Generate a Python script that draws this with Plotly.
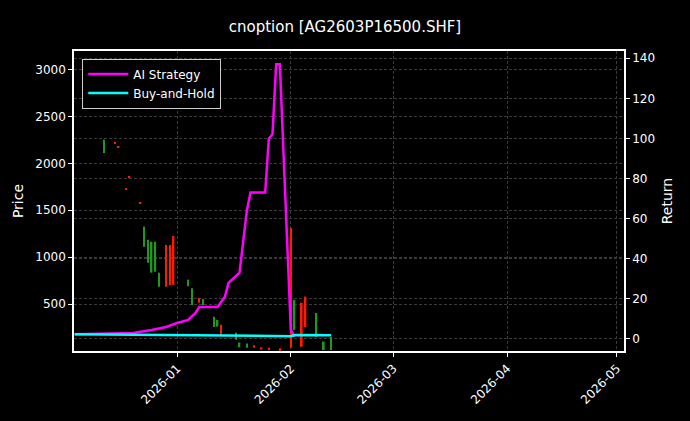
import plotly.graph_objects as go

# candlesticks (red = up, green = down)
c_dates = ['2025-12-12', '2025-12-15', '2025-12-16', '2025-12-18', '2025-12-19', '2025-12-22',
           '2025-12-23', '2025-12-24', '2025-12-25', '2025-12-26', '2025-12-27', '2025-12-29',
           '2025-12-30', '2025-12-31', '2026-01-04', '2026-01-05', '2026-01-07', '2026-01-08',
           '2026-01-11', '2026-01-12', '2026-01-13', '2026-01-17', '2026-01-18', '2026-01-20',
           '2026-01-22', '2026-01-24', '2026-01-26', '2026-01-29', '2026-02-01', '2026-02-02',
           '2026-02-04', '2026-02-05', '2026-02-08', '2026-02-10', '2026-02-12']
c_open = [2250, 2215, 2170, 1725, 1850, 1575, 1325, 1185, 1165, 1165, 835, 685, 700, 705,
          760, 670, 515, 555, 365, 330, 170, 195, 90, 80, 35, 15, 10, 10, 35, 545, 225, 255, 405, 100, 150]
c_high = [2250, 2225, 2180, 1735, 1860, 1585, 1325, 1185, 1165, 1165, 835, 1130, 1130, 1225,
          760, 670, 565, 555, 365, 330, 280, 195, 90, 80, 60, 40, 35, 30, 1310, 545, 515, 580, 405, 100, 150]
c_low = [2110, 2215, 2170, 1725, 1850, 1575, 1110, 940, 835, 845, 685, 685, 700, 705,
         690, 490, 515, 490, 255, 260, 170, 120, 40, 35, 35, 15, 10, 10, 35, 225, 45, 255, 150, 10, 10]
c_close = [2110, 2225, 2180, 1735, 1860, 1585, 1110, 940, 835, 845, 685, 1130, 1130, 1225,
           690, 490, 565, 490, 255, 260, 280, 120, 40, 35, 60, 40, 35, 30, 1310, 225, 515, 580, 150, 10, 10]

ai_dates = ['2025-12-04', '2025-12-10', '2025-12-16', '2025-12-20', '2025-12-25', '2025-12-29',
            '2026-01-01', '2026-01-04', '2026-01-06', '2026-01-07', '2026-01-12', '2026-01-14',
            '2026-01-15', '2026-01-18', '2026-01-20', '2026-01-21', '2026-01-25', '2026-01-26',
            '2026-01-27', '2026-01-28', '2026-01-29', '2026-02-01', '2026-02-02']
ai_ret = [2.3, 2.5, 2.8, 3.0, 4.5, 6.0, 8.0, 9.5, 13, 16, 16, 21, 28, 33, 64, 73, 73, 100,
          102, 137, 137, 4.5, 1.0]

bh_dates = ['2025-12-04', '2025-12-15', '2025-12-25', '2026-01-05', '2026-01-15', '2026-01-25',
            '2026-02-01', '2026-02-02', '2026-02-06', '2026-02-12']
bh_ret = [2.3, 2.1, 1.8, 1.6, 1.4, 1.3, 1.4, 2.0, 1.9, 1.8]

fig = go.Figure()
colors = ['#ff1a00' if c >= o else '#1f9a1f' for o, c in zip(c_open, c_close)]
span = [max(h - l, 12) for h, l in zip(c_high, c_low)]
fig.add_trace(go.Bar(x=c_dates, y=span, base=c_low, width=0.45 * 86400000, marker_color=colors,
                     marker_line_width=0, showlegend=False, yaxis='y'))
fig.add_trace(go.Scatter(x=ai_dates, y=ai_ret, mode='lines', name='AI Strategy',
                         line=dict(color='#ff00ff', width=2.5), yaxis='y2'))
fig.add_trace(go.Scatter(x=bh_dates, y=bh_ret, mode='lines', name='Buy-and-Hold',
                         line=dict(color='#00ffff', width=2.5), yaxis='y2'))

grid = dict(showgrid=True, gridcolor='#3a3a3a', griddash='3px,2px', gridwidth=0.6)
fig.update_layout(
    width=690, height=421, paper_bgcolor='black', plot_bgcolor='black',
    font=dict(family='DejaVu Sans', color='white', size=12),
    margin=dict(l=74, r=66, t=51, b=70),
    title=dict(text='cnoption [AG2603P16500.SHF]', x=0.5, xanchor='center', y=0.95, font=dict(size=15)),
    xaxis=dict(range=['2025-12-03 20:00', '2026-05-02 22:00'],
               tickformat='%Y-%m', dtick='M1', tick0='2026-01-01', tickangle=-45,
               showline=True, linecolor='white', linewidth=1.5, mirror=True,
               ticks='outside', tickcolor='white', ticklen=4, **grid),
    yaxis=dict(title=dict(text='Price', standoff=8), range=[0, 3197], tickvals=[500, 1000, 1500, 2000, 2500, 3000],
               showline=True, linecolor='white', linewidth=1.5, ticks='outside', tickcolor='white',
               ticklen=4, zeroline=False, **grid),
    yaxis2=dict(title=dict(text='Return', standoff=8), range=[-6, 143.6], overlaying='y', side='right',
                tickvals=[0, 20, 40, 60, 80, 100, 120, 140], showline=True, linecolor='white', linewidth=1.5,
                ticks='outside', tickcolor='white', ticklen=4, zeroline=False, **grid),
    legend=dict(x=0.015, y=0.975, xanchor='left', yanchor='top', bgcolor='black', itemwidth=40,
                bordercolor='#ccc', borderwidth=1, font=dict(size=12)),
)
fig.write_html("out.html", config={'displayModeBar': False},
               post_script="document.body.style.margin='0';document.body.style.background='black';")
